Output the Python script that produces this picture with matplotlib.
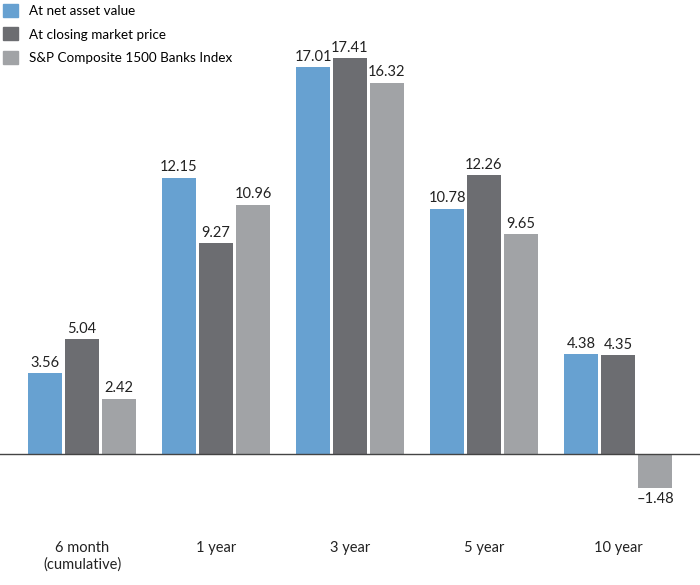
import numpy as np
import matplotlib.pyplot as plt
from matplotlib.patches import Patch

plt.rcParams['font.family'] = ['Lato', 'DejaVu Sans']

# data
periods = ["6 month\n(cumulative)", "1 year", "3 year", "5 year", "10 year"]
nav = [3.56, 12.15, 17.01, 10.78, 4.38]
market = [5.04, 9.27, 17.41, 12.26, 4.35]
index_vals = [2.42, 10.96, 16.32, 9.65, -1.48]
series_names = ["At net asset value", "At closing market price",
                "S&P Composite 1500 Banks Index"]
colors = ["#67a1d1", "#6c6d71", "#a1a3a6"]

fig = plt.figure(figsize=(7, 5.85), dpi=100)
ax = fig.add_axes([0, 48/585, 1, 1 - 48/585 - 30/585])

x = np.arange(len(periods))
w = 0.254
step = 0.276
for i, (vals, c) in enumerate(zip([nav, market, index_vals], colors)):
    pos = x + (i - 1) * step
    ax.bar(pos, vals, width=w, color=c, zorder=2)
    for p, v in zip(pos, vals):
        lab = f"{v:.2f}" if v >= 0 else "\u2013" + f"{abs(v):.2f}"
        ax.annotate(lab, (p, v), xytext=(0, 2.5 if v >= 0 else -3),
                    textcoords="offset points", ha="center",
                    va="bottom" if v >= 0 else "top", fontsize=10.5, color="#222222")

ax.axhline(0, color="#444444", lw=1, zorder=3)
ax.set_xlim(-0.612, 4.612)
ax.set_ylim(-3.65, 18.64)
ax.set_xticks(x)
ax.set_xticklabels(periods, fontsize=10.5, color="#222222", linespacing=1.2)
ax.tick_params(axis="x", length=0, pad=3)
ax.set_yticks([])
for s in ax.spines.values():
    s.set_visible(False)

handles = [Patch(color=c) for c in colors]
ax.legend(handles, series_names, loc="upper left", bbox_to_anchor=(0.003, 1 + 27/507),
          frameon=False, fontsize=9.7, handlelength=1.1, handleheight=1.1,
          handletextpad=0.8, labelspacing=0.75, borderaxespad=0, borderpad=0.1)

fig.savefig("out.png", dpi=100)
